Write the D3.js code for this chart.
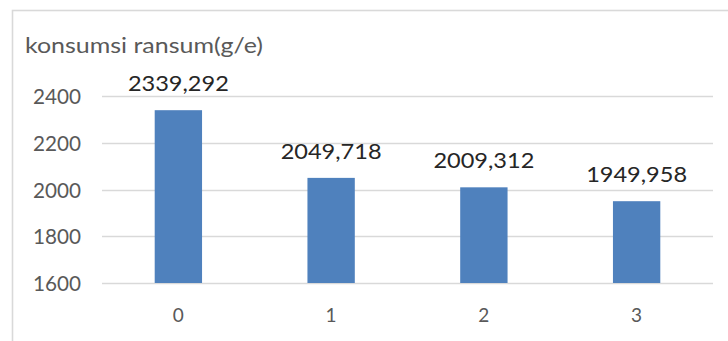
<!DOCTYPE html>
<html>
<head>
<meta charset="utf-8">
<script src="https://cdn.jsdelivr.net/npm/d3@7"></script>
<style>
  html, body { margin: 0; padding: 0; background: #fff; }
  svg { display: block; font-family: Lato, "Open Sans", sans-serif; }
</style>
</head>
<body>
<svg id="chart" width="728" height="341"></svg>
<script>
// Feed consumption per treatment
const categories = ["0", "1", "2", "3"];
const values = [2339.292, 2049.718, 2009.312, 1949.958];
const valueLabels = ["2339,292", "2049,718", "2009,312", "1949,958"];
const yTicks = [1600, 1800, 2000, 2200, 2400];
const yTitle = "konsumsi ransum(g/e)";

const FONT = "Lato, 'Open Sans', sans-serif";
const svg = d3.select("#chart");
const plot = { left: 102, right: 713, top: 96, bottom: 283 };

// Chart frame
svg.append("rect")
  .attr("x", 12.5).attr("y", 10.5)
  .attr("width", 740).attr("height", 360)
  .attr("fill", "#fff").attr("stroke", "#d9d9d9").attr("stroke-width", 1.6);

const x = d3.scaleBand().domain(categories).range([plot.left, plot.right]).paddingInner(0.69).paddingOuter(0.345);
const y = d3.scaleLinear().domain([1600, 2400]).range([plot.bottom, plot.top]);

// Gridlines
svg.append("g").selectAll("line").data(yTicks).join("line")
  .attr("x1", plot.left).attr("x2", plot.right)
  .attr("y1", d => Math.round(y(d)) + 0.5).attr("y2", d => Math.round(y(d)) + 0.5)
  .attr("stroke", "#d9d9d9").attr("stroke-width", 1.5);

// Y axis labels
const yAxis = d3.axisLeft(y).tickValues(yTicks).tickSize(0).tickPadding(0).tickFormat(d3.format("d"));
const gy = svg.append("g").attr("transform", `translate(81,1)`).call(yAxis);
gy.select(".domain").remove();
gy.selectAll("text")
  .attr("fill", "#595959")
  .attr("textLength", 48).attr("lengthAdjust", "spacingAndGlyphs")
  .style("font-size", "21px").style("font-family", FONT);

// X axis labels
const xAxis = d3.axisBottom(x).tickSize(0).tickPadding(0);
const gx = svg.append("g").attr("transform", `translate(0,${plot.bottom + 25})`).call(xAxis);
gx.select(".domain").remove();
gx.selectAll("text").attr("fill", "#595959").style("font-size", "19px").style("font-family", FONT);

// Bars
svg.append("g").selectAll("rect").data(values).join("rect")
  .attr("x", (d, i) => x(categories[i]))
  .attr("y", d => y(d))
  .attr("width", x.bandwidth())
  .attr("height", d => y(1600) - y(d))
  .attr("fill", "#4f81bd");

// Value labels
svg.append("g").selectAll("text").data(values).join("text")
  .attr("x", (d, i) => x(categories[i]) + x.bandwidth() / 2)
  .attr("y", d => y(d) - 19)
  .attr("text-anchor", "middle")
  .attr("textLength", 101).attr("lengthAdjust", "spacingAndGlyphs")
  .attr("fill", "#262626")
  .style("font-size", "22px")
  .text((d, i) => valueLabels[i]);

// Axis title
svg.append("text")
  .attr("x", 25).attr("y", 53)
  .attr("textLength", 238).attr("lengthAdjust", "spacingAndGlyphs")
  .attr("fill", "#595959")
  .style("font-size", "22px")
  .text(yTitle);
</script>
</body>
</html>
